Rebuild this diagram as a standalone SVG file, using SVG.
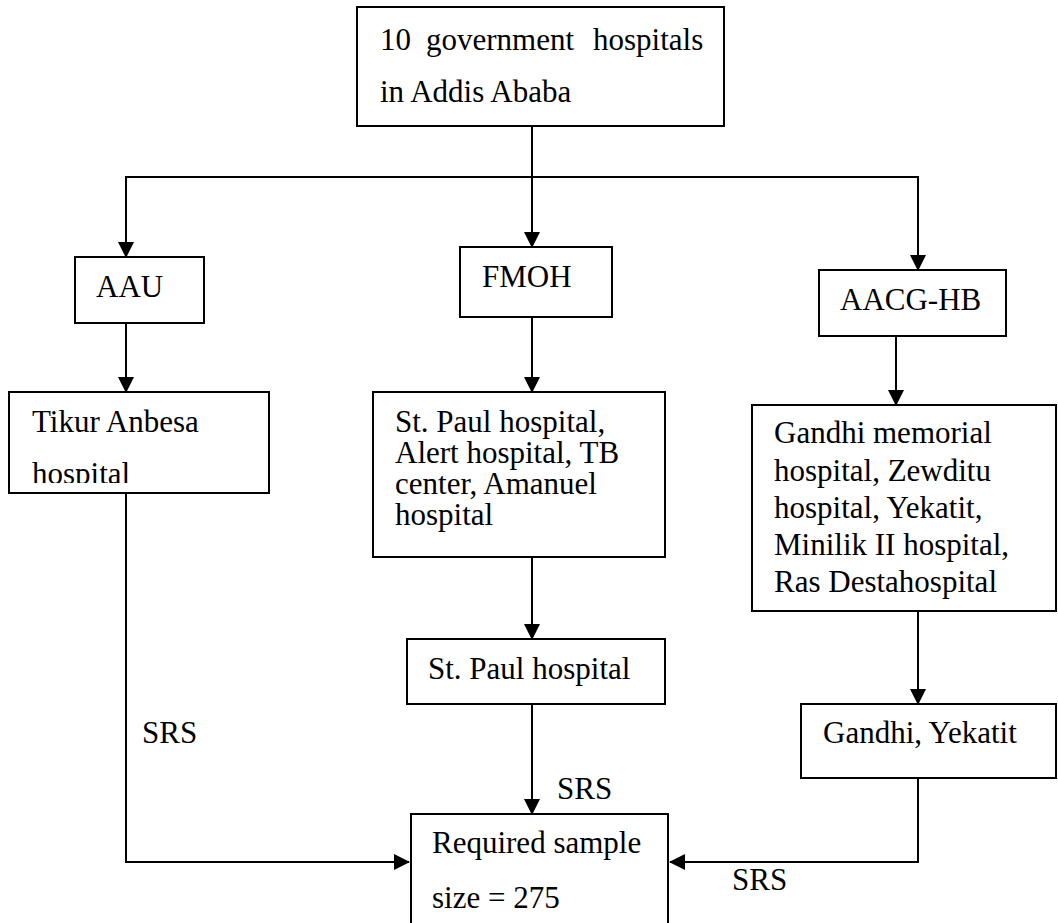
<svg xmlns="http://www.w3.org/2000/svg" width="1058" height="923" viewBox="0 0 1058 923">
<style>
  .box{fill:#fff;stroke:#000;stroke-width:2}
  .t{font-family:"Liberation Serif",Tinos,"Times New Roman","DejaVu Serif",serif;font-size:31px;fill:#000}
  .c{fill:none;stroke:#000;stroke-width:2}
</style>
<defs>
  <marker id="ah" markerUnits="userSpaceOnUse" markerWidth="16" markerHeight="16" viewBox="0 0 16 16" refX="15" refY="8" orient="auto">
    <path d="M0,0 L16,8 L0,16 Z" fill="#000"/>
  </marker>
  <clipPath id="tikurClip"><rect x="9" y="392" width="260" height="91"/></clipPath>
</defs>
<rect width="1058" height="923" fill="#fff"/>
<g id="connectors">
  <line class="c" x1="532" y1="126" x2="532" y2="177"/>
  <polyline class="c" points="126,242 126,177 918,177 918,255"/>
  <line class="c" x1="126" y1="177" x2="126" y2="257" marker-end="url(#ah)"/>
  <line class="c" x1="532" y1="177" x2="532" y2="247" marker-end="url(#ah)"/>
  <line class="c" x1="918" y1="177" x2="918" y2="270" marker-end="url(#ah)"/>
  <line class="c" x1="126" y1="323" x2="126" y2="392" marker-end="url(#ah)"/>
  <line class="c" x1="532" y1="317" x2="532" y2="392" marker-end="url(#ah)"/>
  <line class="c" x1="896" y1="336" x2="896" y2="405" marker-end="url(#ah)"/>
  <line class="c" x1="532" y1="557" x2="532" y2="639" marker-end="url(#ah)"/>
  <line class="c" x1="918" y1="611" x2="918" y2="704" marker-end="url(#ah)"/>
  <line class="c" x1="532" y1="704" x2="532" y2="814" marker-end="url(#ah)"/>
  <polyline class="c" points="126,493 126,862 409,862" marker-end="url(#ah)"/>
  <polyline class="c" points="918,778 918,862 670,862" marker-end="url(#ah)"/>
  <text class="t" font-family="Liberation Serif, serif" x="142" y="743">SRS</text>
  <text class="t" font-family="Liberation Serif, serif" x="557" y="799">SRS</text>
  <text class="t" font-family="Liberation Serif, serif" x="732" y="890">SRS</text>
</g>
<g id="top">
  <rect class="box" x="357" y="7" width="367" height="119"/>
  <text class="t" font-family="Liberation Serif, serif" y="50"><tspan x="380">10</tspan><tspan x="426">government</tspan><tspan x="593">hospitals</tspan></text>
  <text class="t" font-family="Liberation Serif, serif" x="380" y="102">in Addis Ababa</text>
</g>
<g id="aau">
  <rect class="box" x="75" y="257" width="129" height="66"/>
  <text class="t" font-family="Liberation Serif, serif" x="96" y="297">AAU</text>
</g>
<g id="fmoh">
  <rect class="box" x="460" y="247" width="152" height="70"/>
  <text class="t" font-family="Liberation Serif, serif" x="482" y="287">FMOH</text>
</g>
<g id="aacg">
  <rect class="box" x="819" y="270" width="187" height="66"/>
  <text class="t" font-family="Liberation Serif, serif" x="840" y="310">AACG-HB</text>
</g>
<g id="tikur">
  <rect class="box" x="9" y="392" width="260" height="101"/>
  <g clip-path="url(#tikurClip)">
    <text class="t" font-family="Liberation Serif, serif" x="32" y="432">Tikur Anbesa<tspan x="32" dy="52">hospital</tspan></text>
  </g>
</g>
<g id="fmohList">
  <rect class="box" x="373" y="392" width="292" height="165"/>
  <text class="t" font-family="Liberation Serif, serif" x="395" y="432">St. Paul hospital,<tspan x="395" dy="31">Alert hospital, TB</tspan><tspan x="395" dy="31">center, Amanuel</tspan><tspan x="395" dy="31">hospital</tspan></text>
</g>
<g id="aacgList">
  <rect class="box" x="752" y="405" width="304" height="206"/>
  <text class="t" font-family="Liberation Serif, serif" x="774" y="443">Gandhi memorial<tspan x="774" dy="37.5">hospital, Zewditu</tspan><tspan x="774" dy="37.5">hospital, Yekatit,</tspan><tspan x="774" dy="37">Minilik II hospital,</tspan><tspan x="774" dy="37">Ras Destahospital</tspan></text>
</g>
<g id="stpaul">
  <rect class="box" x="407" y="639" width="258" height="65"/>
  <text class="t" font-family="Liberation Serif, serif" x="428" y="679">St. Paul hospital</text>
</g>
<g id="gandhi">
  <rect class="box" x="801" y="704" width="255" height="74"/>
  <text class="t" font-family="Liberation Serif, serif" x="823" y="743">Gandhi, Yekatit</text>
</g>
<g id="sample">
  <rect class="box" x="411" y="814" width="257" height="120"/>
  <text class="t" font-family="Liberation Serif, serif" x="432" y="853">Required sample<tspan x="432" dy="55">size = 275</tspan></text>
</g>
</svg>
